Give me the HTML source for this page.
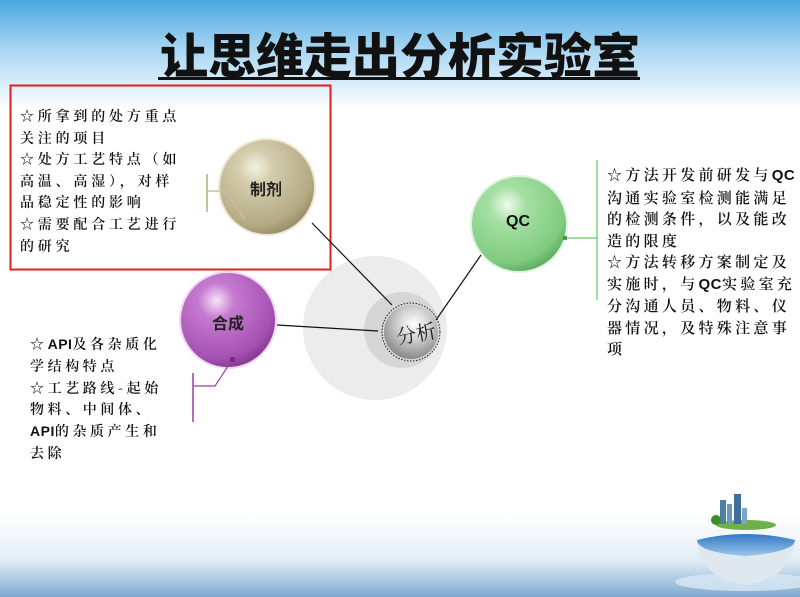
<!DOCTYPE html>
<html><head><meta charset="utf-8">
<style>
html,body{margin:0;padding:0}
body{width:800px;height:597px;overflow:hidden;position:relative;background:#fff;font-family:"Noto Serif CJK SC",serif}
.bg{position:absolute;left:0;top:0;width:800px;height:597px}
.t{position:absolute;color:#111;white-space:nowrap;font-family:"Noto Serif CJK SC",serif;font-weight:600}
.l{letter-spacing:0.5px;font-family:"Liberation Sans",sans-serif;font-weight:bold}
.title{position:absolute;left:0;width:800px;top:22px;text-align:center;font-family:"Noto Sans CJK SC",sans-serif;font-weight:900;font-size:48px;letter-spacing:0;color:#111;line-height:60px}
</style></head><body>
<svg class="bg" width="800" height="597" viewBox="0 0 800 597">
<defs>
<linearGradient id="top" x1="0" y1="0" x2="0" y2="1">
<stop offset="0" stop-color="#4aa8e0"/><stop offset="0.45" stop-color="#a9d6f2"/><stop offset="1" stop-color="#ffffff"/></linearGradient>
<linearGradient id="bot" x1="0" y1="0" x2="0" y2="1">
<stop offset="0" stop-color="#ffffff"/><stop offset="0.55" stop-color="#e2edf6"/><stop offset="1" stop-color="#7fa8d0"/></linearGradient>
<radialGradient id="tan" cx="0.38" cy="0.3" r="0.75"><stop offset="0" stop-color="#f4f1e2"/><stop offset="0.25" stop-color="#d3ccab"/><stop offset="0.8" stop-color="#b3aa83"/><stop offset="1" stop-color="#8f8663"/></radialGradient>
<radialGradient id="pur" cx="0.38" cy="0.3" r="0.75"><stop offset="0" stop-color="#f6e4f8"/><stop offset="0.25" stop-color="#c67ad0"/><stop offset="0.8" stop-color="#a551b3"/><stop offset="1" stop-color="#7c3587"/></radialGradient>
<radialGradient id="grn" cx="0.38" cy="0.3" r="0.75"><stop offset="0" stop-color="#f0fbf0"/><stop offset="0.25" stop-color="#a6e0a4"/><stop offset="0.8" stop-color="#7fcb80"/><stop offset="1" stop-color="#57a55a"/></radialGradient>
<radialGradient id="gry" cx="0.55" cy="0.35" r="0.75"><stop offset="0" stop-color="#ffffff"/><stop offset="0.4" stop-color="#cfcfcf"/><stop offset="0.85" stop-color="#8c8c8c"/><stop offset="1" stop-color="#555"/></radialGradient>
<linearGradient id="sea" x1="0" y1="0" x2="0" y2="1"><stop offset="0" stop-color="#2f78c4"/><stop offset="1" stop-color="#9cc6ea"/></linearGradient>
</defs>
<rect x="0" y="0" width="800" height="110" fill="url(#top)"/>
<rect x="0" y="515" width="800" height="82" fill="url(#bot)"/>
<rect x="158" y="77" width="482" height="3" fill="#111"/>
<rect x="10.5" y="85.5" width="320" height="184" fill="none" stroke="#e02020" stroke-width="2"/>
<circle cx="375" cy="328" r="72" fill="#ececec"/>
<circle cx="402" cy="330" r="38" fill="#d6d6d6"/>
<line x1="312" y1="223" x2="392" y2="305" stroke="#111" stroke-width="1.2"/>
<line x1="277" y1="325" x2="378" y2="331" stroke="#111" stroke-width="1.2"/>
<line x1="481" y1="255" x2="436" y2="320" stroke="#111" stroke-width="1.2"/>
<circle cx="411" cy="332" r="27" fill="url(#gry)"/>
<circle cx="411" cy="332" r="29" fill="none" stroke="#222" stroke-width="1" stroke-dasharray="1.5 1.5"/>
<circle cx="267" cy="187" r="48" fill="url(#tan)" stroke="#efe9d4" stroke-width="2"/>
<circle cx="228" cy="320" r="48" fill="url(#pur)" stroke="#f0d8f2" stroke-width="2"/>
<circle cx="519" cy="224" r="48" fill="url(#grn)" stroke="#dff3df" stroke-width="2"/>
<polyline points="207,174 207,212" fill="none" stroke="#c9c19a" stroke-width="2"/>
<polyline points="207,191 225,191 245,220" fill="none" stroke="#c9c19a" stroke-width="1.5"/>
<polyline points="193,373 193,422" fill="none" stroke="#9b3fa6" stroke-width="1.5"/>
<polyline points="193,386 215,386 232,360" fill="none" stroke="#9b3fa6" stroke-width="1.2"/>
<rect x="230" y="357" width="5" height="5" fill="#7a2a88"/>
<polyline points="597,160 597,300" fill="none" stroke="#6cc46c" stroke-width="1.2"/>
<polyline points="565,238 597,238" fill="none" stroke="#6cc46c" stroke-width="1.2"/>
<rect x="563" y="236" width="4" height="4" fill="#4a9a4a"/>
<ellipse cx="745" cy="582" rx="70" ry="9" fill="#d8e8f4" opacity="0.8"/>
<path d="M697,540 Q745,528 795,540 Q792,578 745,585 Q700,578 697,540 Z" fill="#dfe8ef"/>
<path d="M697,540 Q745,528 795,540 Q795,552 745,556 Q697,552 697,540 Z" fill="url(#sea)"/>
<ellipse cx="746" cy="525" rx="30" ry="5" fill="#6fb04a"/>
<rect x="720" y="500" width="6" height="24" fill="#4f7fa6"/>
<rect x="727" y="504" width="5" height="20" fill="#6a9ac0"/>
<rect x="734" y="494" width="7" height="30" fill="#3f6f98"/>
<rect x="742" y="508" width="5" height="16" fill="#7aa7c8"/>
<circle cx="716" cy="520" r="5" fill="#3c8a2e"/>
</svg>
<div class="title">让思维走出分析实验室</div>
<div class="t" style="left:250px;top:176px;font-family:'Noto Sans CJK SC',sans-serif;font-weight:bold;font-size:16px;color:#222">制剂</div>
<div class="t" style="left:212px;top:310px;font-family:'Noto Sans CJK SC',sans-serif;font-weight:bold;font-size:16px;color:#222">合成</div>
<div class="t" style="left:506px;top:213px;font-family:'Liberation Sans',sans-serif;font-weight:bold;font-size:16px;color:#111">QC</div>
<div class="t" style="left:396px;top:318px;font-size:20px;font-weight:400;color:#222;transform:rotate(-10deg)">分析</div>
<div class="t" style="left:20px;top:106px;font-size:14px;line-height:21.6px;letter-spacing:3.8px">☆所拿到的处方重点<br>关注的项目<br>☆处方工艺特点（如<br>高温、高湿），对样<br>品稳定性的影响<br>☆需要配合工艺进行<br>的研究</div>
<div class="t" style="left:607px;top:164px;font-size:15px;line-height:21.5px;letter-spacing:3.3px">☆方法开发前研发与<span class="l">QC</span><br>沟通实验室检测能满足<br>的检测条件，以及能改<br>造的限度<br>☆方法转移方案制定及<br>实施时，与<span class="l">QC</span>实验室充<br>分沟通人员、物料、仪<br>器情况，及特殊注意事<br>项</div>
<div class="t" style="left:30px;top:334px;font-size:14px;line-height:21.8px;letter-spacing:3.6px">☆<span class="l">API</span>及各杂质化<br>学结构特点<br>☆工艺路线-起始<br>物料、中间体、<br><span class="l">API</span>的杂质产生和<br>去除</div>
</body></html>
